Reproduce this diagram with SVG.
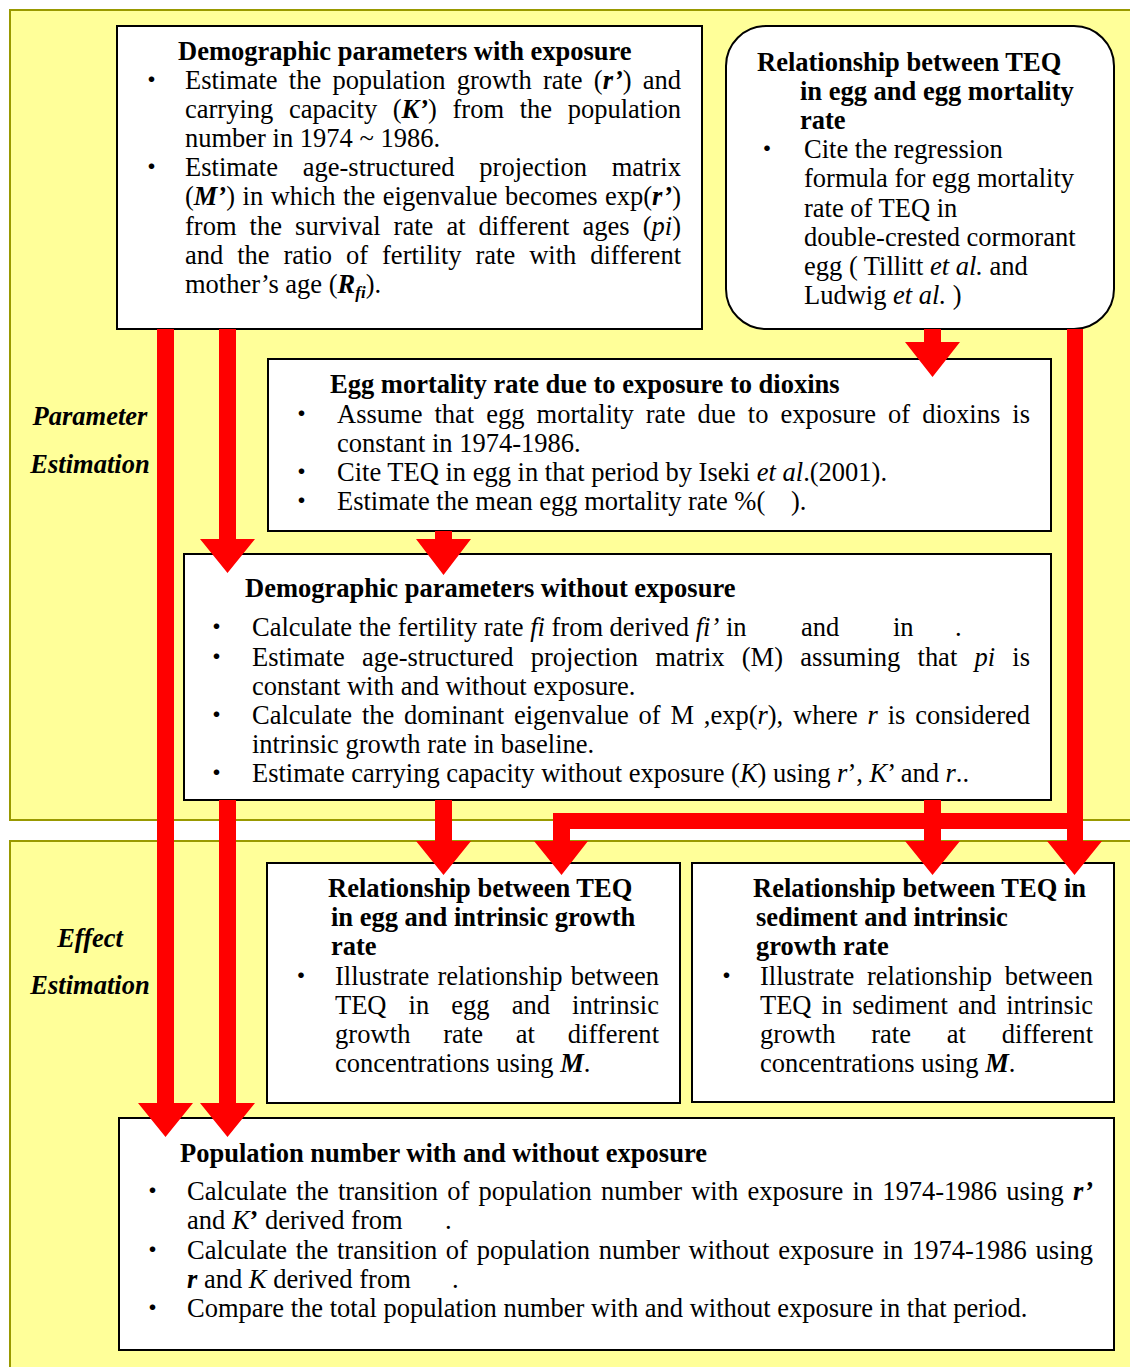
<svg xmlns="http://www.w3.org/2000/svg" width="1130" height="1367" viewBox="0 0 1130 1367">
<style>
.t{font-family:"Liberation Serif","Noto Sans CJK JP",serif;font-size:26.5px;fill:#000}
.b{font-weight:bold}
.i{font-style:italic}
.m{text-anchor:middle}
.box{fill:#fff;stroke:#000;stroke-width:2}
.panel{fill:#FFFF99;stroke:#999900;stroke-width:2}
.arr{fill:#FF0000}
.sub{font-size:17px}
</style>
<g id="panels">
<rect class="panel" x="10" y="10" width="1130" height="810"/>
<rect class="panel" x="10" y="841" width="1130" height="540"/>
<text class="t b i m" x="90" y="425">Parameter</text>
<text class="t b i m" x="90" y="473">Estimation</text>
<text class="t b i m" x="90" y="947">Effect</text>
<text class="t b i m" x="90" y="994">Estimation</text>
</g>
<g id="nodeA">
<rect class="box" x="117" y="26" width="585" height="303"/>
<text class="t b" x="178" y="60">Demographic parameters with exposure</text>
<text class="t m" x="151.5" y="88.5">・</text>
<text class="t" x="185" y="88.5" word-spacing="4.7" textLength="496" lengthAdjust="spacing">Estimate the population growth rate (<tspan class="b i">r’</tspan>) and</text>
<text class="t" x="185" y="117.7" word-spacing="9" textLength="496" lengthAdjust="spacing">carrying capacity (<tspan class="b i">K’</tspan>) from the population</text>
<text class="t" x="185" y="146.9">number in 1974 ~ 1986.</text>
<text class="t m" x="151.5" y="176.1">・</text>
<text class="t" x="185" y="176.1" word-spacing="18" textLength="496" lengthAdjust="spacing">Estimate age-structured projection matrix</text>
<text class="t" x="185" y="205.3" word-spacing="1" textLength="496" lengthAdjust="spacing">(<tspan class="b i">M’</tspan>) in which the eigenvalue becomes exp(<tspan class="b i">r’</tspan>)</text>
<text class="t" x="185" y="234.5" word-spacing="6.4" textLength="496" lengthAdjust="spacing">from the survival rate at different ages (<tspan class="i">pi</tspan>)</text>
<text class="t" x="185" y="263.7" word-spacing="7.3" textLength="496" lengthAdjust="spacing">and the ratio of fertility rate with different</text>
<text class="t" x="185" y="292.9">mother’s age (<tspan class="b i">R</tspan><tspan class="b i sub" dy="5">fi</tspan><tspan dy="-5">).</tspan></text>
</g>
<g id="nodeB">
<rect class="box" x="726" y="26" width="388" height="303" rx="40" ry="40"/>
<text class="t b" x="757" y="71">Relationship between TEQ</text>
<text class="t b" x="800" y="100">in egg and egg mortality</text>
<text class="t b" x="800" y="129">rate</text>
<text class="t m" x="767" y="158">・</text>
<text class="t" x="804" y="158">Cite the regression</text>
<text class="t" x="804" y="187">formula for egg mortality</text>
<text class="t" x="804" y="216.5">rate of TEQ in</text>
<text class="t" x="804" y="245.5">double-crested cormorant</text>
<text class="t" x="804" y="275">egg ( Tillitt <tspan class="i">et al.</tspan> and</text>
<text class="t" x="804" y="304">Ludwig <tspan class="i">et al.</tspan> )</text>
</g>
<g id="nodeC">
<rect class="box" x="268" y="359" width="783" height="172"/>
<text class="t b" x="330" y="392.7">Egg mortality rate due to exposure to dioxins</text>
<text class="t m" x="301.5" y="423">・</text>
<text class="t" x="337" y="423" word-spacing="5.4" textLength="693" lengthAdjust="spacing">Assume that egg mortality rate due to exposure of dioxins is</text>
<text class="t" x="337" y="452">constant in 1974-1986.</text>
<text class="t m" x="301.5" y="480.5">・</text>
<text class="t" x="337" y="480.5">Cite TEQ in egg in that period by Iseki <tspan class="i">et al</tspan>.(2001).</text>
<text class="t m" x="301.5" y="509.5">・</text>
<text class="t" x="337" y="509.5">Estimate the mean egg mortality rate %(<tspan x="791">).</tspan></text>
</g>
<g id="nodeD">
<rect class="box" x="184" y="554" width="867" height="246"/>
<text class="t b" x="245" y="597">Demographic parameters without exposure</text>
<text class="t m" x="216.5" y="636">・</text>
<text class="t" x="252" y="636">Calculate the fertility rate <tspan class="i">fi</tspan> from derived <tspan class="i">fi’</tspan> in<tspan x="801">and</tspan><tspan x="893">in</tspan><tspan x="955">.</tspan></text>
<text class="t m" x="216.5" y="666">・</text>
<text class="t" x="252" y="666" word-spacing="10.6" textLength="778" lengthAdjust="spacing">Estimate age-structured projection matrix (M) assuming that <tspan class="i">pi</tspan> is</text>
<text class="t" x="252" y="695">constant with and without exposure.</text>
<text class="t m" x="216.5" y="724">・</text>
<text class="t" x="252" y="724" word-spacing="3.2" textLength="778" lengthAdjust="spacing">Calculate the dominant eigenvalue of M ,exp(<tspan class="i">r</tspan>), where <tspan class="i">r</tspan> is considered</text>
<text class="t" x="252" y="753">intrinsic growth rate in baseline.</text>
<text class="t m" x="216.5" y="782">・</text>
<text class="t" x="252" y="782">Estimate carrying capacity without exposure (<tspan class="i">K</tspan>) using <tspan class="i">r</tspan>’, <tspan class="i">K</tspan>’ and <tspan class="i">r</tspan>..</text>
</g>
<g id="nodeE">
<rect class="box" x="267" y="863" width="413" height="240"/>
<text class="t b" x="328" y="897">Relationship between TEQ</text>
<text class="t b" x="331" y="926">in egg and intrinsic growth</text>
<text class="t b" x="331" y="955">rate</text>
<text class="t m" x="301" y="984.5">・</text>
<text class="t" x="335" y="984.5" word-spacing="1.5" textLength="324" lengthAdjust="spacing">Illustrate relationship between</text>
<text class="t" x="335" y="1014" word-spacing="15.5" textLength="324" lengthAdjust="spacing">TEQ in egg and intrinsic</text>
<text class="t" x="335" y="1043" word-spacing="26" textLength="324" lengthAdjust="spacing">growth rate at different</text>
<text class="t" x="335" y="1072">concentrations using <tspan class="b i">M</tspan>.</text>
</g>
<g id="nodeF">
<rect class="box" x="692" y="863" width="422" height="239"/>
<text class="t b" x="753" y="897">Relationship between TEQ in</text>
<text class="t b" x="756" y="926">sediment and intrinsic</text>
<text class="t b" x="756" y="955">growth rate</text>
<text class="t m" x="726.5" y="984.5">・</text>
<text class="t" x="760" y="984.5" word-spacing="6" textLength="333" lengthAdjust="spacing">Illustrate relationship between</text>
<text class="t" x="760" y="1014" word-spacing="3.5" textLength="333" lengthAdjust="spacing">TEQ in sediment and intrinsic</text>
<text class="t" x="760" y="1043" word-spacing="29" textLength="333" lengthAdjust="spacing">growth rate at different</text>
<text class="t" x="760" y="1072">concentrations using <tspan class="b i">M</tspan>.</text>
</g>
<g id="nodeG">
<rect class="box" x="119" y="1118" width="995" height="232"/>
<text class="t b" x="180" y="1162">Population number with and without exposure</text>
<text class="t m" x="152.5" y="1199.5">・</text>
<text class="t" x="187" y="1199.5" word-spacing="2.6" textLength="906" lengthAdjust="spacing">Calculate the transition of population number with exposure in 1974-1986 using <tspan class="b i">r’</tspan></text>
<text class="t" x="187" y="1228.5">and <tspan class="i">K</tspan><tspan class="b">’</tspan> derived from<tspan x="445">.</tspan></text>
<text class="t m" x="152.5" y="1258.5">・</text>
<text class="t" x="187" y="1258.5" word-spacing="2.1" textLength="906" lengthAdjust="spacing">Calculate the transition of population number without exposure in 1974-1986 using</text>
<text class="t" x="187" y="1287.5"><tspan class="b i">r</tspan> and <tspan class="i">K</tspan> derived from<tspan x="452">.</tspan></text>
<text class="t m" x="152.5" y="1317">・</text>
<text class="t" x="187" y="1317">Compare the total population number with and without exposure in that period.</text>
</g>
<g id="connectors">
<polygon class="arr" points="157,329 174,329 174,1103 193,1103 165.5,1137 138,1103 157,1103"/>
<polygon class="arr" points="219,329 236,329 236,539 255,539 227.5,573 200,539 219,539"/>
<polygon class="arr" points="219,800 236,800 236,1103 255,1103 227.5,1137 200,1103 219,1103"/>
<polygon class="arr" points="435,531 452,531 452,539 471,539 443.5,575 416,539 435,539"/>
<polygon class="arr" points="924,329 941,329 941,342 960,342 932.5,377 905,342 924,342"/>
<polygon class="arr" points="1067,329 1083,329 1083,841 1102,841 1074.5,875 1047,841 1067,841"/>
<polygon class="arr" points="553,813 1083,813 1083,829 570,829 570,841 588,841 561.5,875 534,841 553,841"/>
<polygon class="arr" points="435,800 452,800 452,841 471,841 443.5,875 416,841 435,841"/>
<polygon class="arr" points="924,800 941,800 941,841 960,841 932.5,875 905,841 924,841"/>
</g>
</svg>
